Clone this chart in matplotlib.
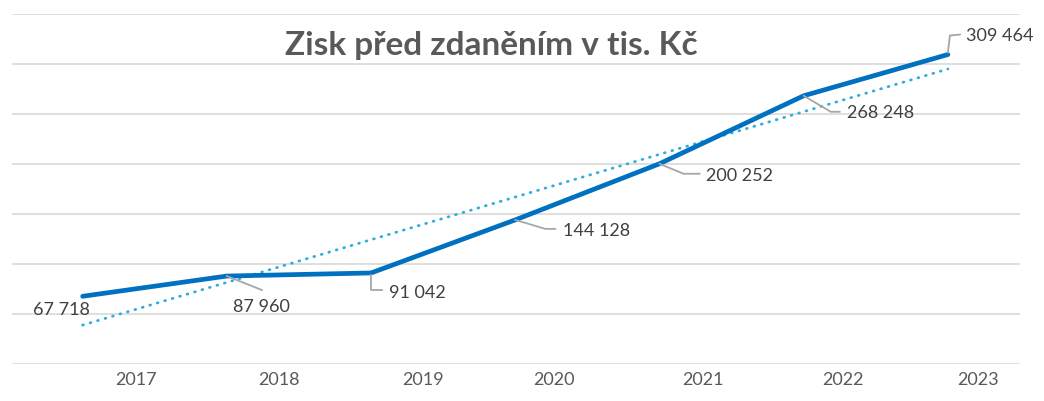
import numpy as np
import matplotlib
matplotlib.use("Agg")
import matplotlib.pyplot as plt
from matplotlib.transforms import IdentityTransform

years = ["2017", "2018", "2019", "2020", "2021", "2022", "2023"]
profit = [67718, 87960, 91042, 144128, 200252, 268248, 309464]
value_labels = ["67 718", "87 960", "91 042", "144 128", "200 252", "268 248", "309 464"]

# label offsets from each point, in pixels (image coords, y down)
label_offsets = [(-21, 13), (35, 30), (46, 19), (81, 10), (80, 11), (77, 16), (52, -20)]
leaders = [
    None,
    [(0, 0), (35, 14)],
    [(0, 2), (0, 17), (11, 17)],
    [(0, 0), (30, 9), (40, 9)],
    [(0, 0), (24, 10), (40, 10)],
    [(0, 0), (27, 16), (36, 16)],
    [(0, -2), (2, -19), (12, -20)],
]
# category labels sit a bit right of the points (as in the source)
tick_shift = [0.37, 0.36, 0.36, 0.27, 0.30, 0.27, 0.21]

plt.rcParams["font.family"] = ["Lato", "DejaVu Sans"]

fig = plt.figure(figsize=(10.44, 4.02), dpi=100)
ax = fig.add_axes([12 / 1044, 37 / 402, 1008 / 1044, 350 / 402])

x = np.arange(len(years))
ax.plot(x, profit, color="#0070C0", lw=3.4, solid_capstyle="round", zorder=3)

# linear trend line
k, q = np.polyfit(x, profit, 1)
ax.plot(x, k * x + q, color="#2EAEDC", lw=2.0, ls=(0, (0.3, 2.5)),
        dash_capstyle="round", zorder=2)

ax.set_xlim(-0.49, 6.5)
ax.set_ylim(0, 350000)
ax.set_yticks(np.arange(0, 350001, 50000))
ax.yaxis.grid(True, color="#D9D9D9", lw=1.2)
ax.set_axisbelow(True)
ax.set_yticklabels([])
ax.set_xticks(x + np.array(tick_shift))
ax.set_xticklabels(years, fontsize=13, color="#595959")
ax.tick_params(length=0, pad=5)
for s in ax.spines.values():
    s.set_visible(False)

fig.canvas.draw()
for i in range(len(years)):
    px, py = ax.transData.transform((x[i], profit[i]))
    dx, dy = label_offsets[i]
    ax.text(px + dx, py - dy, value_labels[i], transform=IdentityTransform(),
            ha="center", va="center", fontsize=13, color="#404040", zorder=5)
    if leaders[i]:
        lx = [px + a for a, b in leaders[i]]
        ly = [py - b for a, b in leaders[i]]
        ax.plot(lx, ly, transform=IdentityTransform(), color="#A6A6A6",
                lw=1.3, zorder=4, clip_on=False)

fig.text(491 / 1044, 1 - 45 / 402, "Zisk před zdaněním v tis. Kč", ha="center",
         va="center", fontsize=24, fontweight="bold", color="#595959")

fig.savefig("out.png", dpi=100, facecolor="white")
